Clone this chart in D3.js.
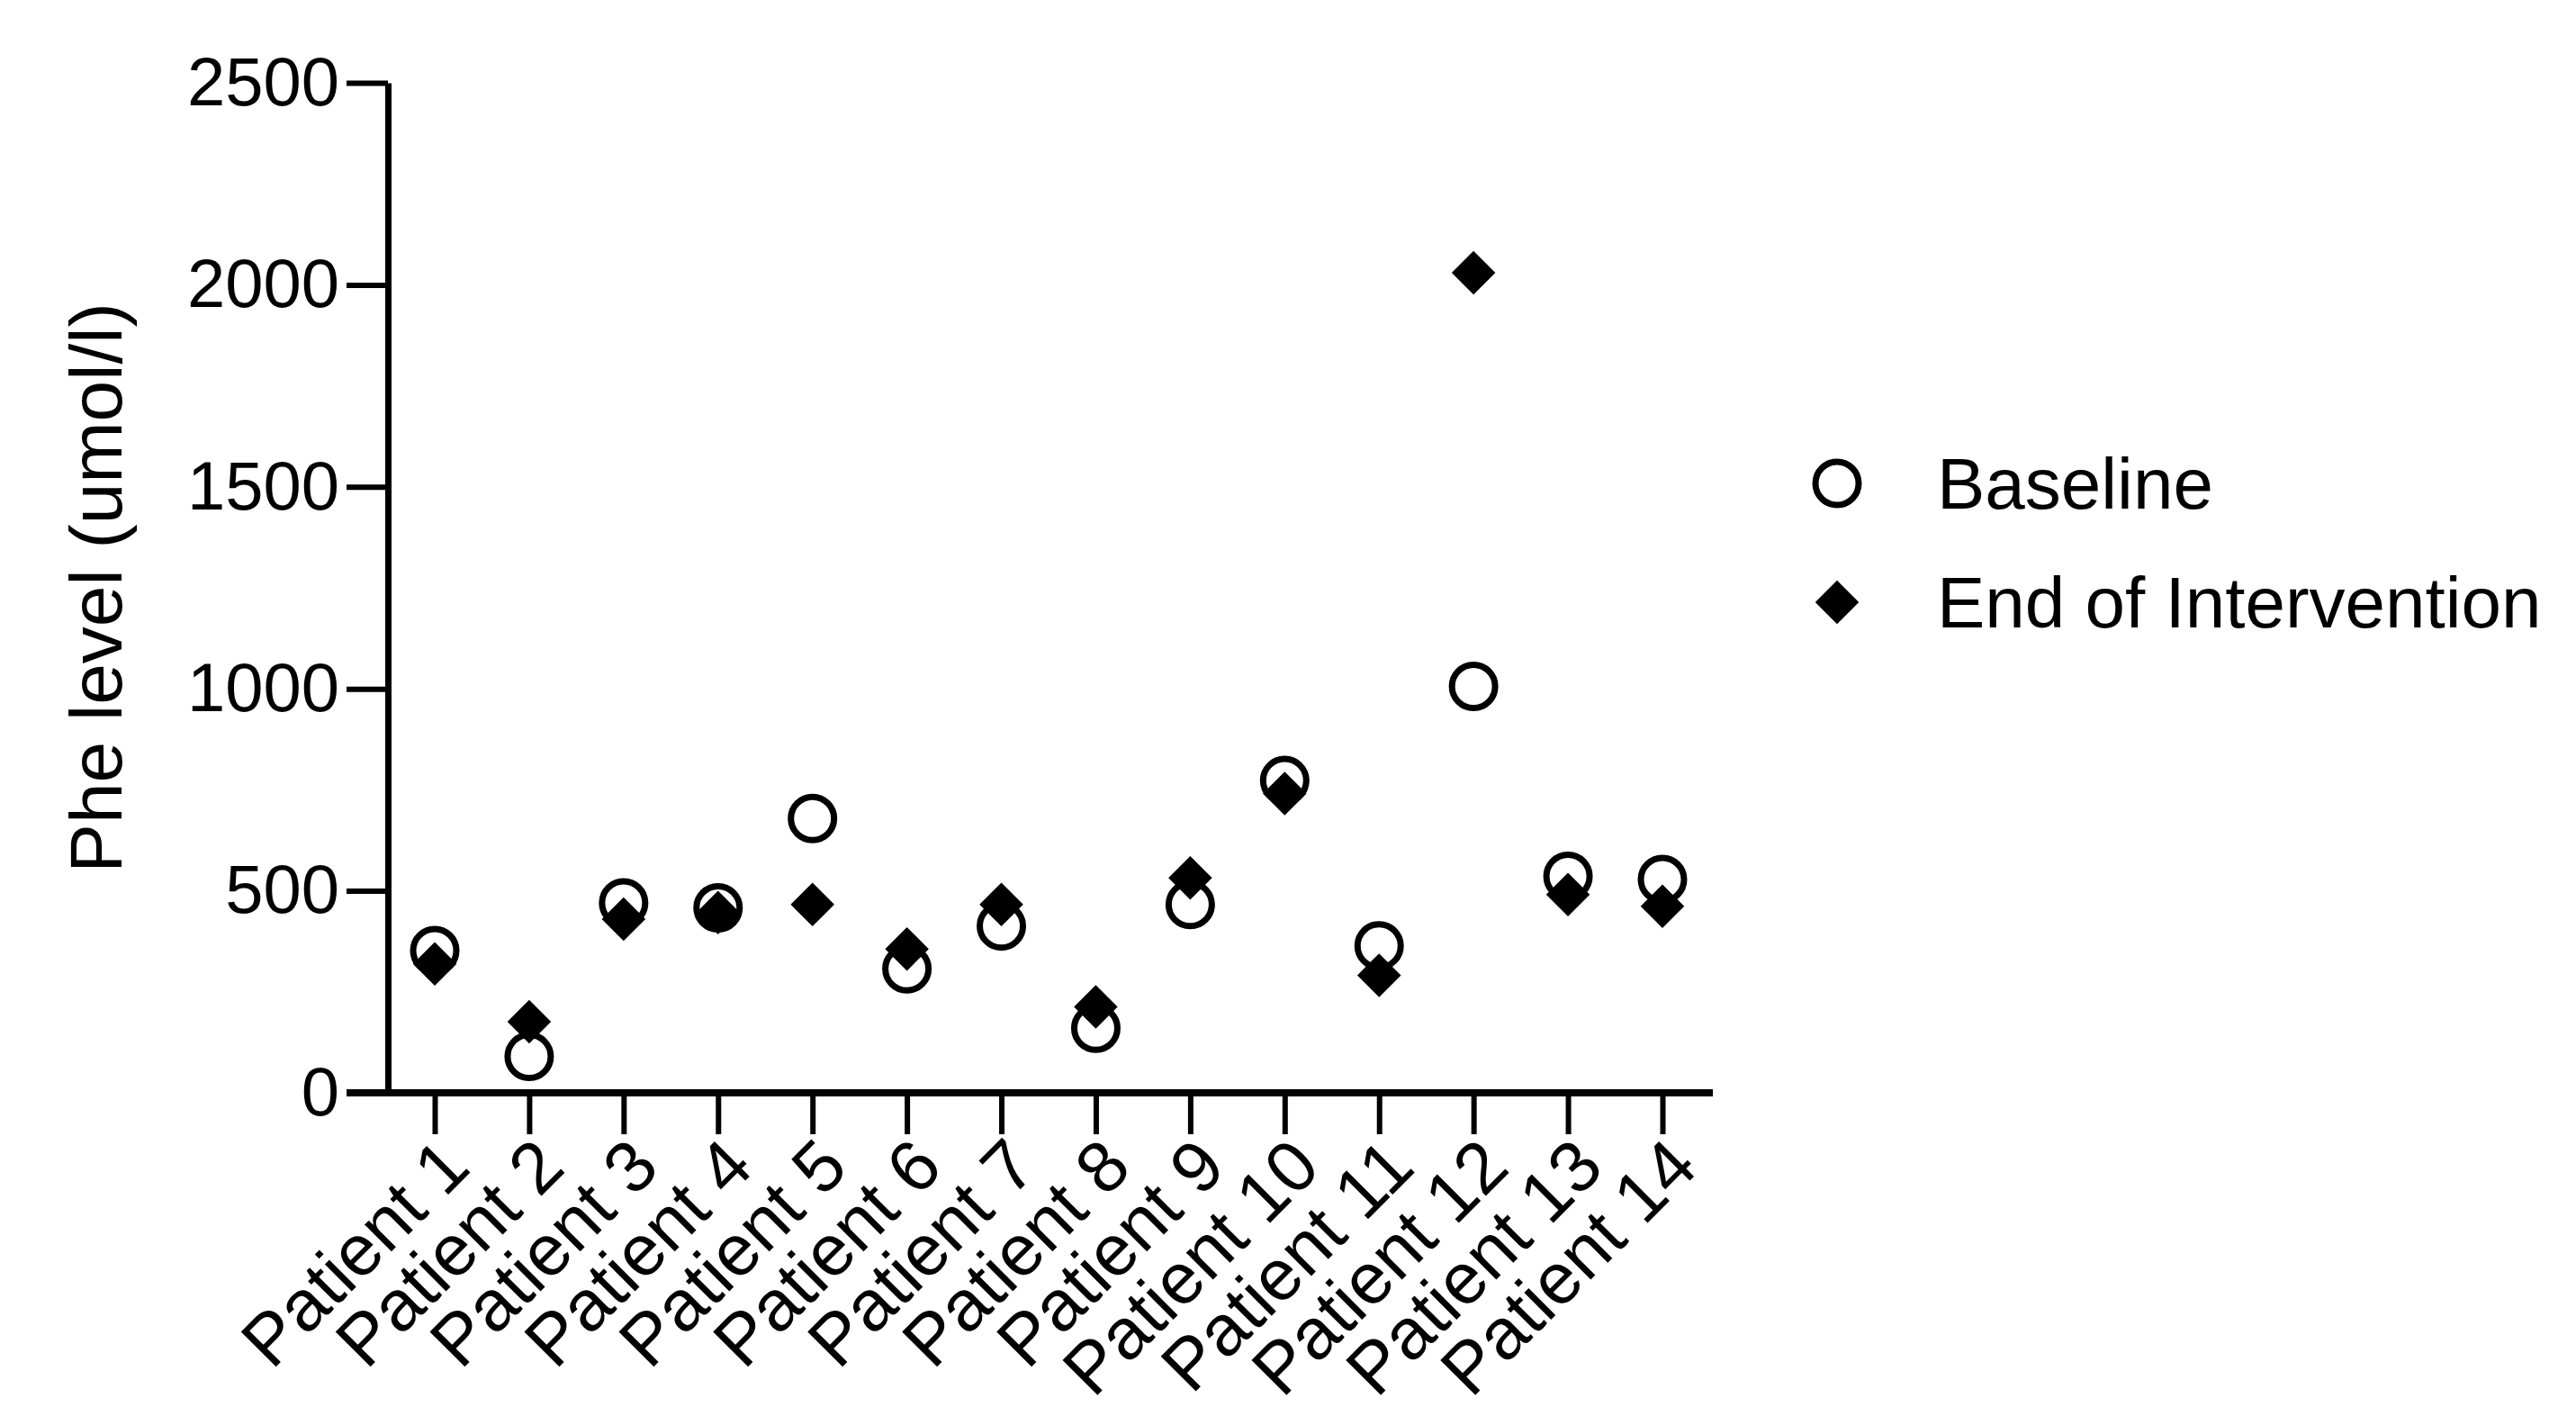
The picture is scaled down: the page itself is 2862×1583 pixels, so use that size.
<!DOCTYPE html>
<html>
<head>
<meta charset="utf-8">
<script src="https://cdn.jsdelivr.net/npm/d3@7"></script>
<style>
body { margin: 0; background: #fff; }
text { font-family: "Liberation Sans", Arial, sans-serif; fill: #000; }
</style>
</head>
<body>
<svg id="chart" width="2862" height="1583"></svg>
<script>
var patients = ["Patient 1","Patient 2","Patient 3","Patient 4","Patient 5","Patient 6","Patient 7",
  "Patient 8","Patient 9","Patient 10","Patient 11","Patient 12","Patient 13","Patient 14"];
var baseline = [352, 90, 470, 458, 679, 307, 413, 160, 466, 773, 364, 1006, 536, 528];
var endOfIntervention = [319, 176, 430, 446, 466, 356, 466, 213, 532, 741, 291, 2030, 491, 462];
var yTicks = [0, 500, 1000, 1500, 2000, 2500];

var svg = d3.select("#chart");
var axisX = 431, yTop = 92, yBottom = 1214, xEnd = 1903;

var x = d3.scalePoint()
	.domain(patients)
	.range([483, 1847]);
var y = d3.scaleLinear()
	.domain([0, 2500])
	.range([yBottom, yTop]);

// y axis
var gy = svg.append("g")
	.attr("transform", "translate(" + axisX + ",0)")
	.call(d3.axisLeft(y).tickValues(yTicks).tickFormat(d3.format("d")).tickSize(46).tickPadding(8).tickSizeOuter(0));
gy.select(".domain").attr("stroke-width", 7);
gy.selectAll(".tick line").attr("stroke-width", 6);
gy.selectAll(".tick text").style("font-size", "76px").attr("font-family", null);

// x axis
var gx = svg.append("g")
	.attr("transform", "translate(0," + yBottom + ")")
	.call(d3.axisBottom(x).tickSize(46).tickSizeOuter(0));
gx.select(".domain").attr("d", "M" + (axisX - 46) + ",0H" + xEnd).attr("stroke-width", 8);
gx.selectAll(".tick line").attr("stroke-width", 6);
gx.selectAll(".tick text")
	.style("font-size", "80px")
	.attr("font-family", null)
	.attr("text-anchor", "end")
	.attr("y", 0)
	.attr("dy", "0.35em")
	.attr("transform", "translate(22,66) rotate(-45)");

// y title
svg.append("text")
	.attr("transform", "translate(135," + ((yTop + yBottom) / 2) + ") rotate(-90)")
	.attr("text-anchor", "middle")
	.style("font-size", "82px")
	.text("Phe level (umol/l)");

// points
svg.append("g").selectAll("circle")
	.data(baseline)
	.join("circle")
	.attr("cx", function(d, i) { return x(patients[i]); })
	.attr("cy", function(d) { return y(d); })
	.attr("r", 24)
	.attr("fill", "none")
	.attr("stroke", "#000")
	.attr("stroke-width", 7);

var diamond = d3.symbol().type(d3.symbolDiamond2).size(1500);
svg.append("g").selectAll("path")
	.data(endOfIntervention)
	.join("path")
	.attr("d", diamond)
	.attr("transform", function(d, i) { return "translate(" + x(patients[i]) + "," + y(d) + ")"; })
	.attr("fill", "#000");

// legend
var legend = svg.append("g");
legend.append("circle").attr("cx", 2041).attr("cy", 537).attr("r", 24)
	.attr("fill", "none").attr("stroke", "#000").attr("stroke-width", 7);
legend.append("path").attr("d", diamond).attr("transform", "translate(2041,669)").attr("fill", "#000");
legend.append("text").attr("x", 2152).attr("y", 537).attr("dy", "0.35em").style("font-size", "80px").text("Baseline");
legend.append("text").attr("x", 2152).attr("y", 669).attr("dy", "0.35em").style("font-size", "80px").text("End of Intervention");
</script>
</body>
</html>
